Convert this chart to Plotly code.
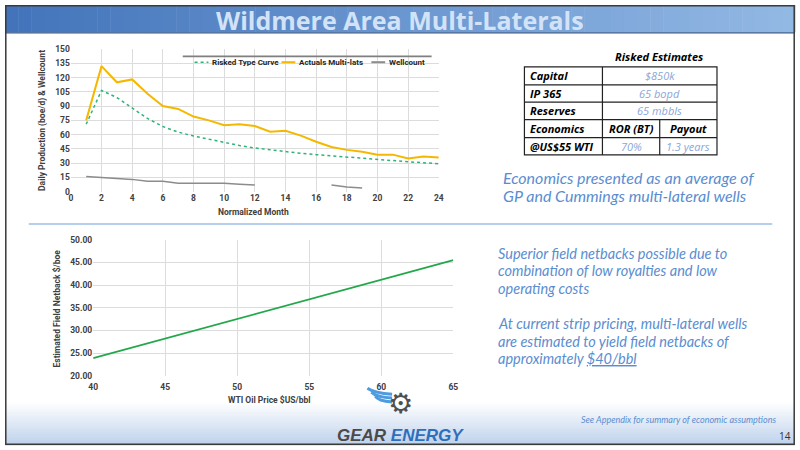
import plotly.graph_objects as go

# ---------------- data ----------------
months = list(range(1, 25))
risked_type_curve = [71, 106.5, 99, 88, 77, 68.5, 62.7, 58.6, 55, 51.7, 48.6, 46,
                     44, 42, 40.4, 39, 37.7, 36.3, 35, 33.6, 32.2, 31.5, 30.5, 29.5]
actuals_multilats = [75, 132, 115, 118, 103, 90, 87, 79, 75, 70, 71, 69,
                     63, 64, 59, 52.5, 47, 44, 42, 39, 39, 35, 37, 36]
wellcount = [16, 15, 14.5, 13, 11, 11, 9, 9, 9, 9, 8, 7,
             None, None, None, None, 7, 5, 4, None, None, None, None, None]
series_names = ["Risked Type Curve", "Actuals Multi-lats", "Wellcount"]

wti_price = [40, 45, 50, 55, 60, 65]
field_netback = [23.9, 28.2, 32.6, 36.9, 41.2, 45.5]

table_labels = ["Capital", "IP 365", "Reserves"]
table_values = ["$850k", "65 bopd", "65 mbbls"]
econ_headers = ["Economics", "ROR (BT)", "Payout"]
econ_values = ["@US$55 WTI", "70%", "1.3 years"]

W, H = 800, 450
def px(x): return x / W
def py(y): return 1 - y / H

FONT = "Open Sans"
CFONT = "Roboto"
TEXTBLUE = "#5a8dd0"
COL_RISKED, COL_ACT, COL_WELL = "#2fb37a", "#f5b800", "#8c8c8c"

fig = go.Figure()

fig.add_trace(go.Scatter(x=months, y=risked_type_curve, mode="lines", name=series_names[0],
                         line=dict(color=COL_RISKED, width=1.5, dash="dot"), xaxis="x", yaxis="y"))
fig.add_trace(go.Scatter(x=months, y=actuals_multilats, mode="lines", name=series_names[1],
                         line=dict(color=COL_ACT, width=2), xaxis="x", yaxis="y"))
fig.add_trace(go.Scatter(x=months, y=wellcount, mode="lines", name=series_names[2],
                         line=dict(color=COL_WELL, width=1.5), connectgaps=False, xaxis="x", yaxis="y"))
fig.add_trace(go.Scatter(x=wti_price, y=field_netback, mode="lines",
                         line=dict(color="#22a84a", width=1.8), xaxis="x2", yaxis="y2"))

tickfont = dict(family=CFONT, size=8.5, color="#404040", weight="bold")
axis_common = dict(showline=False, zeroline=False, ticks="", gridcolor="#dcdcdc", gridwidth=1,
                   tickfont=tickfont, fixedrange=True)

shapes = []
annotations = []

# banner gradient
n = 60
c0, c1 = (0x43, 0x74, 0xBB), (0x92, 0xB8, 0xE4)
for i in range(n):
    t = i / (n - 1)
    col = "rgb(%d,%d,%d)" % tuple(round(a + (b - a) * t) for a, b in zip(c0, c1))
    shapes.append(dict(type="rect", xref="paper", yref="paper", x0=px(i * W / n), x1=px((i + 1) * W / n + 0.5),
                       y0=py(28), y1=py(0), fillcolor=col, line=dict(width=0), layer="below"))
shapes.append(dict(type="line", xref="paper", yref="paper", x0=0, x1=1, y0=py(28.5), y1=py(28.5),
                   line=dict(color="#34578a", width=1.2)))

# footer gradient
m = 20
f0, f1 = (0xFF, 0xFF, 0xFF), (0xBF, 0xD2, 0xEC)
for i in range(m):
    t = i / (m - 1)
    col = "rgb(%d,%d,%d)" % tuple(round(a + (b - a) * t) for a, b in zip(f0, f1))
    y0 = 405 + i * 45 / m
    shapes.append(dict(type="rect", xref="paper", yref="paper", x0=0, x1=1,
                       y0=py(y0 + 45 / m + 0.5), y1=py(y0), fillcolor=col, line=dict(width=0), layer="below"))

# separator line
shapes.append(dict(type="line", xref="paper", yref="paper", x0=px(24), x1=px(777), y0=py(224), y1=py(224),
                   line=dict(color="#9cc0e6", width=1.5)))
# line above legend
shapes.append(dict(type="line", xref="paper", yref="paper", x0=px(180), x1=px(432), y0=py(52.5), y1=py(52.5),
                   line=dict(color="#7f7f7f", width=1.8)))

def ann(x, y, text, size, color="#000000", xanchor="left", bold=False, italic=False, family=FONT, **kw):
    annotations.append(dict(x=px(x), y=py(y), xref="paper", yref="paper", text=text, showarrow=False,
                            xanchor=xanchor, yanchor="middle",
                            font=dict(family=family, size=size, color=color,
                                      weight="bold" if bold else "normal",
                                      style="italic" if italic else "normal"), **kw))

# custom compact legend
leg_y = 58.5
for (x0, x1, tx), name, col, dash, wd in zip(
        [(192, 206, 208), (280, 294, 296), (371, 385, 387)], series_names,
        [COL_RISKED, COL_ACT, COL_WELL], ["dot", "solid", "solid"], [1.5, 2, 2]):
    shapes.append(dict(type="line", xref="paper", yref="paper", x0=px(x0), x1=px(x1), y0=py(leg_y), y1=py(leg_y),
                       line=dict(color=col, width=wd, dash=dash)))
    ann(tx, leg_y, name, 8, color="#262626", bold=True, family=CFONT)

# table
tl, tr = 526, 721
rows = [63.3, 81.7, 99.3, 117.3, 135.7, 153.3]
c1x, c2x = 605, 663
shapes.append(dict(type="rect", xref="paper", yref="paper", x0=px(tl), x1=px(tr), y0=py(rows[-1]), y1=py(rows[0]),
                   line=dict(color="#222222", width=1.2)))
for r in rows[1:-1]:
    shapes.append(dict(type="line", xref="paper", yref="paper", x0=px(tl), x1=px(tr), y0=py(r), y1=py(r),
                       line=dict(color="#222222", width=1.2)))
shapes.append(dict(type="line", xref="paper", yref="paper", x0=px(c1x), x1=px(c1x), y0=py(rows[-1]), y1=py(rows[0]),
                   line=dict(color="#222222", width=1.2)))
shapes.append(dict(type="line", xref="paper", yref="paper", x0=px(c2x), x1=px(c2x), y0=py(rows[-1]), y1=py(rows[3]),
                   line=dict(color="#222222", width=1.2)))

# slide frame
shapes.append(dict(type="rect", xref="paper", yref="paper", x0=px(0.8), x1=px(799.2), y0=py(449.2), y1=py(0.8),
                   line=dict(color="#3a3a3a", width=1.5)))

# title
ann(400, 15, "Wildmere Area Multi-Laterals", 25, color="#d3e3f7", xanchor="center", bold=True)

# table text
ann(662, 53, "Risked Estimates", 11, xanchor="center", bold=True, italic=True)
for i, (lab, val) in enumerate(zip(table_labels, table_values)):
    yc = (rows[i] + rows[i + 1]) / 2
    ann(530, yc, lab, 11, bold=True, italic=True)
    ann((c1x + tr) / 2, yc, val, 11, color="#8aa6d8", xanchor="center", italic=True)
yc = (rows[3] + rows[4]) / 2
ann(530, yc, econ_headers[0], 11, bold=True, italic=True)
ann((c1x + c2x) / 2, yc, econ_headers[1], 11, xanchor="center", bold=True, italic=True)
ann((c2x + tr) / 2, yc, econ_headers[2], 11, xanchor="center", bold=True, italic=True)
yc = (rows[4] + rows[5]) / 2
ann(530, yc, econ_values[0], 11, bold=True, italic=True)
ann((c1x + c2x) / 2, yc, econ_values[1], 11, color="#8aa6d8", xanchor="center", italic=True)
ann((c2x + tr) / 2, yc, econ_values[2], 11, color="#8aa6d8", xanchor="center", italic=True)

# body text
ann(502, 176, "Economics presented as an average of", 16, color=TEXTBLUE, italic=True, family="Lato")
ann(502, 195, "GP and Cummings multi-lateral wells", 16, color=TEXTBLUE, italic=True, family="Lato")
body = ["Superior field netbacks possible due to", "combination of low royalties and low", "operating costs",
        "", "At current strip pricing, multi-lateral wells", "are estimated to yield field netbacks of",
        "approximately <u>$40/bbl</u>"]
for i, line in enumerate(body):
    if line:
        ann(497, 254 + i * 18, line, 14.5, color=TEXTBLUE, italic=True, family="Lato")

# footer text
ann(783, 424, "See Appendix for summary of economic assumptions", 9, color=TEXTBLUE, xanchor="right",
    italic=True, family="Lato")
ann(790, 441, "14", 10, color="#333333", xanchor="center")
ann(400, 440, "<span style='color:#4a4a4a'>GEAR</span> <span style='color:#2e6fbd'>ENERGY</span>", 17,
    xanchor="center", bold=True, italic=True, family="Liberation Sans")
ann(400, 408, "⚙", 28, color="#505050", xanchor="center", family="DejaVu Sans")
# wings of logo
for yy, ln in [(396, 22), (400, 18), (404, 14)]:
    shapes.append(dict(type="path", xref="paper", yref="paper",
                       path="M %f,%f Q %f,%f %f,%f" % (px(385 - ln + 4), py(yy - 4), px(385 - ln / 2), py(yy + 1),
                                                      px(392), py(yy + 2)),
                       line=dict(color="#4d9be0", width=3)))

# axis titles
ann(252, 212, "Normalized Month", 8.5, color="#404040", xanchor="center", bold=True, family=CFONT)
ann(38, 118, "Daily Production (boe/d) & Wellcount", 8.5, color="#404040", xanchor="center", bold=True,
    textangle=-90, family=CFONT)
ann(268, 404, "WTI Oil Price $US/bbl", 8.5, color="#404040", xanchor="center", bold=True, family=CFONT)
ann(53, 310, "Estimated Field Netback $/boe", 8.5, color="#404040", xanchor="center", bold=True, textangle=-90,
    family=CFONT)

fig.update_layout(
    width=W, height=H, margin=dict(l=0, r=0, t=0, b=0),
    paper_bgcolor="white", plot_bgcolor="white",
    showlegend=False,
    xaxis=dict(domain=[px(66.7), px(439.3)], range=[0, 24], dtick=2, anchor="y", **axis_common),
    yaxis=dict(domain=[py(191), py(45)], range=[0, 150], dtick=15, anchor="x", **axis_common),
    xaxis2=dict(domain=[px(89.3), px(454)], range=[40, 65], dtick=5, anchor="y2", ticklabelstandoff=5,
                **axis_common),
    yaxis2=dict(domain=[py(379.3), py(240)], range=[20, 50], dtick=5, tickformat=".2f", anchor="x2",
                **axis_common),
    shapes=shapes, annotations=annotations,
)

fig.write_html("out.html", config={"displayModeBar": False},
               post_script="document.body.style.margin='0';document.body.style.overflow='hidden';")
